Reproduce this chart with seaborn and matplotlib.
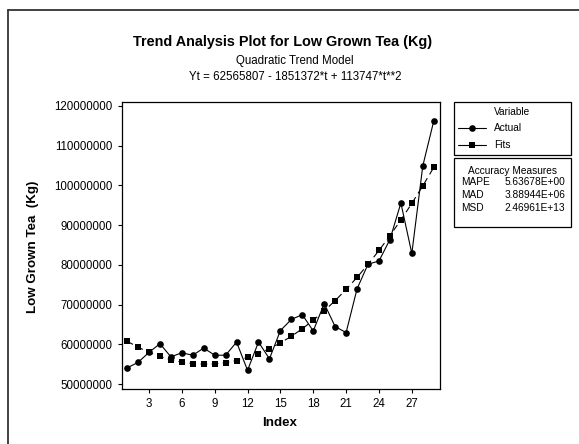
import numpy as np
import pandas as pd
import matplotlib
matplotlib.use("Agg")
import matplotlib.pyplot as plt
from matplotlib.lines import Line2D
from matplotlib.patches import Rectangle
from matplotlib.ticker import FuncFormatter
import seaborn as sns

# ---- data ----
index = list(range(1, 30))
actual = [54.1e6, 55.5e6, 58.0e6, 60.2e6, 56.9e6, 57.9e6, 57.3e6, 59.1e6, 57.3e6, 57.3e6,
          60.6e6, 53.5e6, 60.6e6, 56.4e6, 63.5e6, 66.3e6, 67.5e6, 63.4e6, 70.3e6, 64.5e6,
          63.0e6, 74.0e6, 80.2e6, 81.0e6, 86.4e6, 95.6e6, 82.9e6, 104.9e6, 116.2e6]
fits = [60828182, 59318051, 58035414, 56980271, 56152622, 55552467, 55179806, 55034639,
        55116966, 55426787, 55964102, 56728911, 57721214, 58941011, 60388302, 62063087,
        63965366, 66095139, 68452406, 71037167, 73849422, 76889171, 80156414, 83651151,
        87373382, 91323107, 95500326, 99905039, 104537246]
xticks = [3, 6, 9, 12, 15, 18, 21, 24, 27]
yticks = [50000000, 60000000, 70000000, 80000000, 90000000, 100000000, 110000000, 120000000]
measures = ["MAPE", "MAD", "MSD"]
measure_vals = ["5.63678E+00", "3.88944E+06", "2.46961E+13"]

df = pd.DataFrame({
    "Index": index * 2,
    "Value": actual + fits,
    "Variable": ["Actual"] * len(index) + ["Fits"] * len(index),
})

sns.set_theme(style="white")
plt.rcParams["font.family"] = ["Liberation Sans", "DejaVu Sans"]
plt.rcParams["text.color"] = "black"

W, H = 579, 444
fig = plt.figure(figsize=(W / 100, H / 100), dpi=100)
ax = fig.add_axes([121.7 / W, 1 - 389 / H, (440.3 - 121.7) / W, (389 - 102.3) / H])

sns.lineplot(data=df, x="Index", y="Value", style="Variable",
             markers={"Actual": "o", "Fits": "s"},
             dashes={"Actual": "", "Fits": (6, 4)},
             color="black", linewidth=0.8, markersize=4.8,
             markeredgewidth=0, legend=False, ax=ax)

ax.set_xlim(0.51, 29.6)
ax.set_ylim(48.8e6, 120.93e6)
ax.set_xticks(xticks)
ax.set_yticks(yticks)
ax.yaxis.set_major_formatter(FuncFormatter(lambda v, p: f"{int(round(v))}"))
ax.tick_params(axis="both", which="major", direction="out", length=3, width=0.8,
               color="black", labelsize=8.3, labelcolor="black", pad=3.5,
               bottom=True, left=True)
for s in ax.spines.values():
    s.set_color("black")
    s.set_linewidth(0.9)
ax.set_xlabel("")
ax.set_ylabel("")
ax.grid(False)

# axis labels
fig.text(280 / W, 1 - 423 / H, "Index", ha="center", va="center",
         fontsize=9.6, fontweight="bold")
fig.text(33 / W, 1 - 247 / H, "Low Grown Tea  (Kg)", ha="center", va="center",
         rotation=90, fontsize=9.6, fontweight="bold")

# titles
fig.text(282.5 / W, 1 - 42 / H, "Trend Analysis Plot for Low Grown Tea (Kg)",
         ha="center", va="center", fontsize=10.4, fontweight="bold")
fig.text(295 / W, 1 - 61 / H, "Quadratic Trend Model", ha="center", va="center", fontsize=8.3)
fig.text(295 / W, 1 - 77 / H, "Yt = 62565807 - 1851372*t + 113747*t**2",
         ha="center", va="center", fontsize=8.3)

# outer frame
fig.add_artist(Line2D([8 / W, 1.0], [1 - 10 / H, 1 - 10 / H], transform=fig.transFigure,
                      color="#333333", lw=1.3))
fig.add_artist(Line2D([8 / W, 8 / W], [1 - 10 / H, 0.0], transform=fig.transFigure,
                      color="#333333", lw=1.3))

# legend boxes
def box(x0, y0, x1, y1):
    fig.add_artist(Rectangle((x0 / W, 1 - y1 / H), (x1 - x0) / W, (y1 - y0) / H,
                             transform=fig.transFigure, fill=False,
                             edgecolor="black", lw=0.9))

box(454.3, 101.7, 571, 155)
box(454.3, 158.3, 571, 226.7)

fig.text(512 / W, 1 - 111.7 / H, "Variable", ha="center", va="center", fontsize=7.3)
for yy, lab, mk in [(128.3, "Actual", "o"), (145, "Fits", "s")]:
    fig.add_artist(Line2D([458 / W, 485.7 / W], [1 - yy / H, 1 - yy / H],
                          transform=fig.transFigure, color="black", lw=0.8))
    fig.add_artist(Line2D([472 / W], [1 - yy / H], transform=fig.transFigure,
                          color="black", marker=mk, markersize=4.8, markeredgewidth=0,
                          linestyle="none"))
    fig.text(494.3 / W, 1 - yy / H, lab, ha="left", va="center", fontsize=7.3)

fig.text(512 / W, 1 - 171 / H, "Accuracy Measures", ha="center", va="center", fontsize=7.3)
for yy, m, v in zip([182.3, 195, 208.3], measures, measure_vals):
    fig.text(461 / W, 1 - yy / H, m, ha="left", va="center", fontsize=7.3)
    fig.text(565 / W, 1 - yy / H, v, ha="right", va="center", fontsize=7.3)

fig.savefig("out.png", dpi=100, facecolor="white")
